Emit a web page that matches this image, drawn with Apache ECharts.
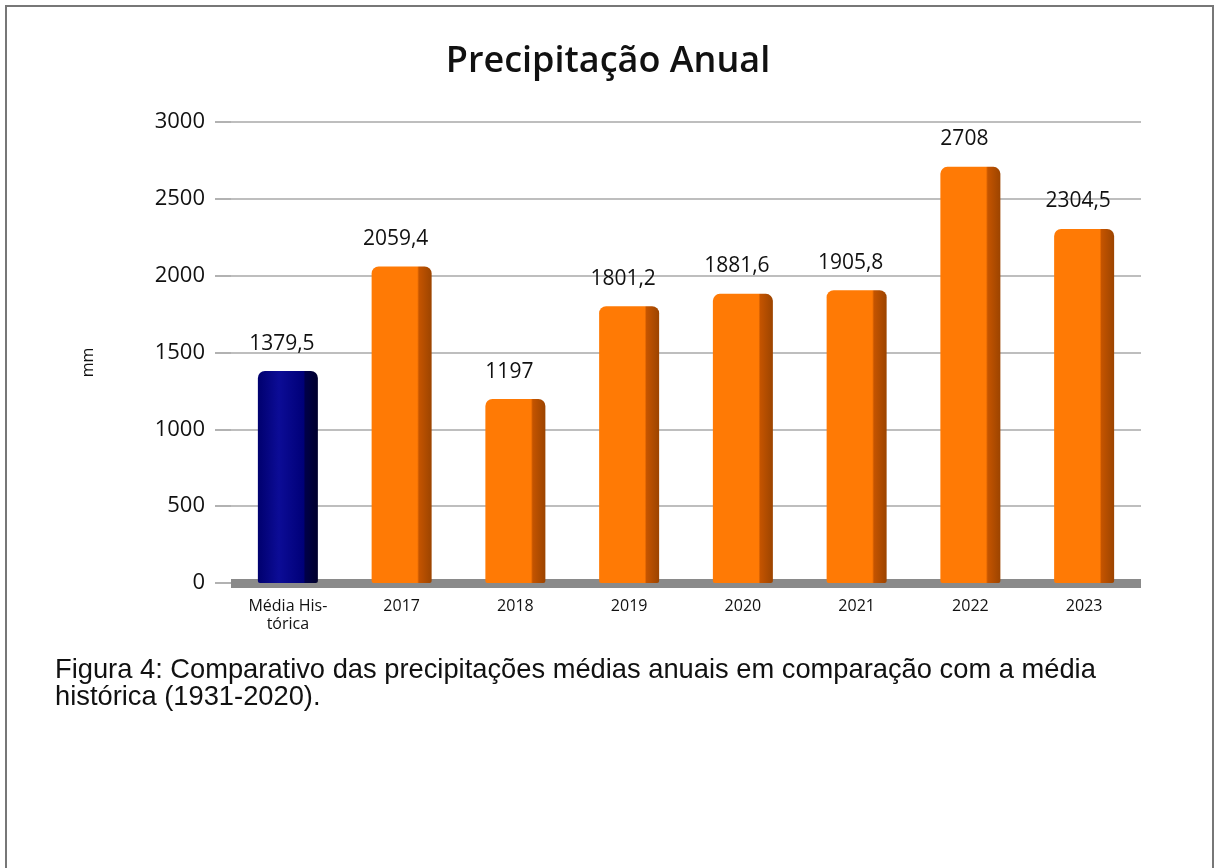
<!DOCTYPE html>
<html>
<head>
<meta charset="utf-8">
<script src="https://cdn.jsdelivr.net/npm/echarts@6/dist/echarts.min.js"></script>
<style>
  html, body { margin: 0; padding: 0; background: #fff; }
  #chart { width: 1216px; height: 868px; }
</style>
</head>
<body>
<div id="chart"></div>
<script>
// categorias e valores (mm)
const categories = ["Média His-\ntórica", "2017", "2018", "2019", "2020", "2021", "2022", "2023"];
const values = [1379.5, 2059.4, 1197, 1801.2, 1881.6, 1905.8, 2708, 2304.5];
const yTicks = [0, 500, 1000, 1500, 2000, 2500, 3000];

const orange = {
  type: "linear", x: 0, y: 0, x2: 1, y2: 0,
  colorStops: [
    { offset: 0, color: "#ff7a05" },
    { offset: 0.76, color: "#ff7a05" },
    { offset: 0.79, color: "#c45400" },
    { offset: 1, color: "#9c4400" },
  ],
};
const navy = {
  type: "linear", x: 0, y: 0, x2: 1, y2: 0,
  colorStops: [
    { offset: 0, color: "#00006e" },
    { offset: 0.35, color: "#0c0c96" },
    { offset: 0.76, color: "#000078" },
    { offset: 0.79, color: "#000048" },
    { offset: 1, color: "#00002c" },
  ],
};

const chart = echarts.init(document.getElementById("chart"));

chart.setOption({
  animation: false,
  backgroundColor: "#fff",
  title: {
    text: "Precipitação Anual",
    left: "center",
    top: 39,
    textStyle: {
      fontFamily: "Open Sans",
      fontWeight: 600,
      fontSize: 36,
      color: "#111",
    },
  },
  grid: { left: 231, right: 75, top: 122, bottom: 285 },
  xAxis: {
    type: "category",
    data: categories,
    axisTick: { show: false },
    axisLine: { lineStyle: { color: "#8a8a8a", width: 9, cap: "butt" } },
    axisLabel: {
      margin: 14,
      fontFamily: "Open Sans",
      fontSize: 16,
      lineHeight: 18,
      color: "#111",
    },
  },
  yAxis: {
    type: "value",
    min: yTicks[0],
    max: yTicks[yTicks.length - 1],
    interval: 500,
    name: "mm",
    nameLocation: "middle",
    nameGap: 135,
    nameTextStyle: { fontFamily: "Open Sans", fontSize: 16, color: "#111", padding: [0, 20, 0, 0] },
    axisLine: { show: false },
    axisTick: { show: true, length: 16, lineStyle: { color: "#999", width: 1.5 } },
    axisLabel: {
      margin: 26,
      fontFamily: "Open Sans",
      fontSize: 22,
      color: "#111",
      formatter: (v) => String(v),
    },
    splitLine: { lineStyle: { color: "#a8a8a8", width: 1.5 } },
  },
  series: [
    {
      type: "bar",
      barWidth: 60,
      data: values.map((v, i) => ({
        value: v,
        itemStyle: { color: i === 0 ? navy : orange },
      })),
      itemStyle: { borderRadius: [7, 7, 2, 2] },
      label: {
        show: true,
        position: "top",
        distance: 17,
        offset: [-6, 0],
        fontFamily: "Open Sans",
        fontSize: 21,
        color: "#111",
        formatter: (p) => String(p.value).replace(".", ","),
      },
    },
  ],
  graphic: [
    {
      type: "rect",
      shape: { x: 6, y: 6, width: 1207, height: 900 },
      style: { fill: "none", stroke: "#777", lineWidth: 2 },
      silent: true,
    },
    {
      type: "text",
      left: 55,
      top: 657,
      style: {
        text: "Figura 4: Comparativo das precipitações médias anuais em comparação com a média\nhistórica (1931-2020).",
        fontFamily: "Liberation Sans",
        fontSize: 27.3,
        lineHeight: 27,
        fill: "#111",
      },
    },
  ],
});
</script>
</body>
</html>
